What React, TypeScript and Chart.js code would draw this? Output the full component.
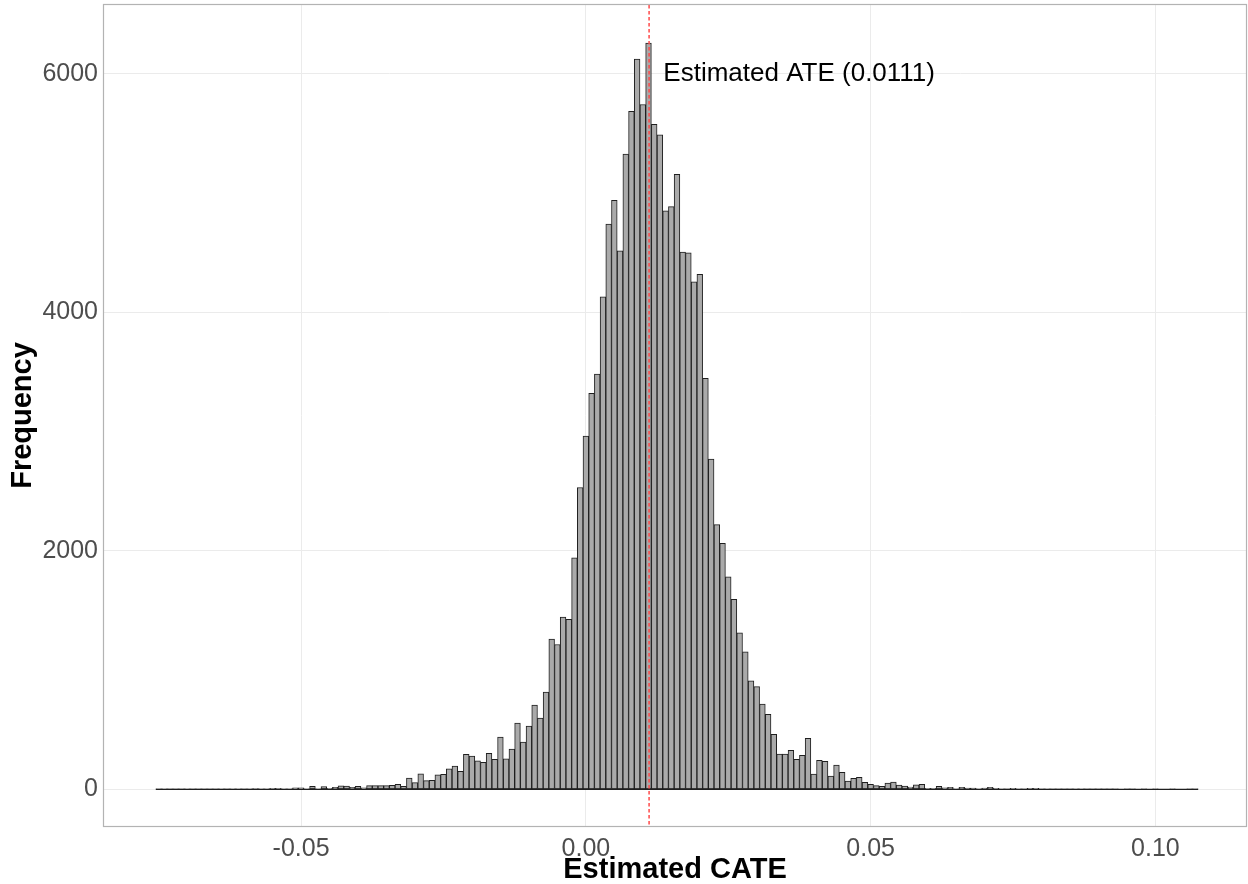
import React, { useEffect, useRef } from "react";
import { Chart, registerables } from "chart.js";

Chart.register(...registerables);

// Histogram bins: centre of the first bin and the bin width (Estimated CATE)
const BIN_WIDTH = 0.001;
const FIRST_BIN_CENTER = -0.075;

// Frequency per bin, bins centred from -0.075 to 0.107
const binCounts: number[] = [
  2, 5, 2, 1, 2, 4, 2, 1, 2, 2,
  2, 5, 2, 5, 3, 2, 3, 6, 3, 3,
  8, 9, 4, 3, 13, 12, 3, 25, 5, 24,
  8, 17, 30, 28, 18, 26, 12, 32, 32, 32,
  32, 33, 42, 26, 95, 57, 131, 73, 75, 123,
  126, 173, 196, 151, 293, 279, 240, 226, 302, 251,
  439, 257, 338, 556, 397, 531, 707, 598, 816, 1260,
  1215, 1444, 1425, 1942, 2531, 2962, 3320, 3482, 4130, 4739,
  4938, 4516, 5326, 5684, 6122, 5742, 6256, 5575, 5488, 4851,
  4885, 5156, 4504, 4499, 4256, 4318, 3446, 2769, 2219, 2063,
  1783, 1593, 1313, 1154, 911, 861, 716, 629, 462, 297,
  297, 328, 252, 286, 428, 129, 243, 235, 112, 204,
  142, 70, 92, 101, 59, 42, 31, 25, 53, 61,
  36, 28, 20, 39, 42, 8, 8, 25, 14, 17,
  5, 17, 11, 11, 5, 11, 17, 8, 3, 2,
  8, 3, 2, 8, 9, 2, 3, 2, 2, 1,
  2, 4, 4, 1, 2, 1, 1, 1, 1, 0,
  1, 1, 0, 1, 0, 1, 0, 0, 1, 0,
  0, 1, 1,
];

const xTickValues = [-0.05, 0, 0.05, 0.1];
const yTickValues = [0, 2000, 4000, 6000];

const ATE = 0.0111;
const ATE_LABEL = "Estimated ATE (0.0111)";
const ATE_LABEL_Y = 6000;
const ATE_LABEL_DX = 0.0025;

const X_TITLE = "Estimated CATE";
const Y_TITLE = "Frequency";

const FONT = "'Liberation Sans', Arial, Helvetica, sans-serif";

const binCenters = binCounts.map((_, i) =>
  Number((FIRST_BIN_CENTER + i * BIN_WIDTH).toFixed(4))
);

export default function App() {
  const canvasRef = useRef<HTMLCanvasElement | null>(null);

  useEffect(() => {
    document.body.style.margin = "0";
    const canvas = canvasRef.current;
    if (!canvas) return;

    const overlay = {
      id: "overlay",
      afterDatasetsDraw(chart: any) {
        const { ctx, chartArea, scales } = chart;
        const x = scales.x.getPixelForValue(ATE);
        ctx.save();
        ctx.beginPath();
        ctx.rect(chartArea.left, chartArea.top, chartArea.right - chartArea.left, chartArea.bottom - chartArea.top);
        ctx.clip();
        ctx.strokeStyle = "#FF4A4A";
        ctx.lineWidth = 1.5;
        ctx.setLineDash([3.5, 2.5]);
        ctx.beginPath();
        ctx.moveTo(x, chartArea.top);
        ctx.lineTo(x, chartArea.bottom);
        ctx.stroke();
        ctx.setLineDash([]);
        ctx.fillStyle = "#000000";
        ctx.font = `26px ${FONT}`;
        ctx.textAlign = "left";
        ctx.textBaseline = "middle";
        ctx.fillText(
          ATE_LABEL,
          scales.x.getPixelForValue(ATE + ATE_LABEL_DX),
          scales.y.getPixelForValue(ATE_LABEL_Y)
        );
        ctx.restore();
      },
      afterDraw(chart: any) {
        const { ctx, chartArea } = chart;
        ctx.save();
        ctx.strokeStyle = "#B3B3B3";
        ctx.lineWidth = 1.2;
        ctx.strokeRect(
          chartArea.left - 0.5,
          chartArea.top - 0.5,
          chartArea.right - chartArea.left + 1,
          chartArea.bottom - chartArea.top + 1
        );
        ctx.restore();
      },
    };

    const chart = new Chart(canvas, {
      data: {
        datasets: [
          {
            type: "bar",
            data: binCenters.map((c, i) => ({ x: c, y: binCounts[i] })),
            backgroundColor: "#AAAAAA",
            borderColor: "#1F1F1F",
            borderWidth: 1,
            borderSkipped: false,
            barPercentage: 1,
            categoryPercentage: 1,
            grouped: false,
            order: 2,
          } as any,
          {
            type: "line",
            data: [
              { x: binCenters[0] - BIN_WIDTH / 2, y: 0 },
              { x: binCenters[binCenters.length - 1] + BIN_WIDTH / 2, y: 0 },
            ],
            borderColor: "#1F1F1F",
            borderWidth: 1.2,
            pointRadius: 0,
            order: 1,
          } as any,
        ],
      },
      options: {
        responsive: false,
        animation: false,
        devicePixelRatio: 1,
        layout: { padding: { top: 5, right: 2, left: 0, bottom: 0 } },
        plugins: {
          legend: { display: false },
          tooltip: { enabled: false },
        },
        scales: {
          x: {
            type: "linear",
            offset: false,
            min: -0.0846,
            max: 0.1159,
            afterBuildTicks: (scale: any) => {
              scale.ticks = xTickValues.map((v) => ({ value: v }));
            },
            afterFit: (scale: any) => {
              scale.height = 58;
              scale.paddingLeft = 0;
              scale.paddingRight = 0;
            },
            grid: { color: "#EBEBEB", lineWidth: 1, drawTicks: false, offset: false },
            border: { display: false },
            ticks: {
              padding: 8,
              color: "#4D4D4D",
              font: { family: FONT, size: 25 },
              maxRotation: 0,
              autoSkip: false,
              callback: (v: any) => Number(v).toFixed(2),
            },
            title: {
              display: true,
              text: X_TITLE,
              color: "#000000",
              font: { family: FONT, size: 29, weight: "bold", lineHeight: 1.0 },
              padding: { top: 0, bottom: 0 },
            },
          },
          y: {
            type: "linear",
            min: -307,
            max: 6576,
            afterBuildTicks: (scale: any) => {
              scale.ticks = yTickValues.map((v) => ({ value: v }));
            },
            afterFit: (scale: any) => {
              scale.width = 104;
              scale.paddingTop = 0;
              scale.paddingBottom = 0;
            },
            grid: { color: "#EBEBEB", lineWidth: 1, drawTicks: false },
            border: { display: false },
            ticks: {
              padding: 6,
              color: "#4D4D4D",
              font: { family: FONT, size: 25 },
              autoSkip: false,
              callback: (v: any) => String(v),
            },
            title: {
              display: true,
              text: Y_TITLE,
              color: "#000000",
              font: { family: FONT, size: 29, weight: "bold", lineHeight: 1.1 },
              padding: { top: 7, bottom: 0 },
            },
          },
        },
      } as any,
      plugins: [overlay],
    });

    return () => {
      chart.destroy();
    };
  }, []);

  return (
    <canvas
      ref={canvasRef}
      width={1248}
      height={884}
      style={{ display: "block", width: 1248, height: 884 }}
    />
  );
}
